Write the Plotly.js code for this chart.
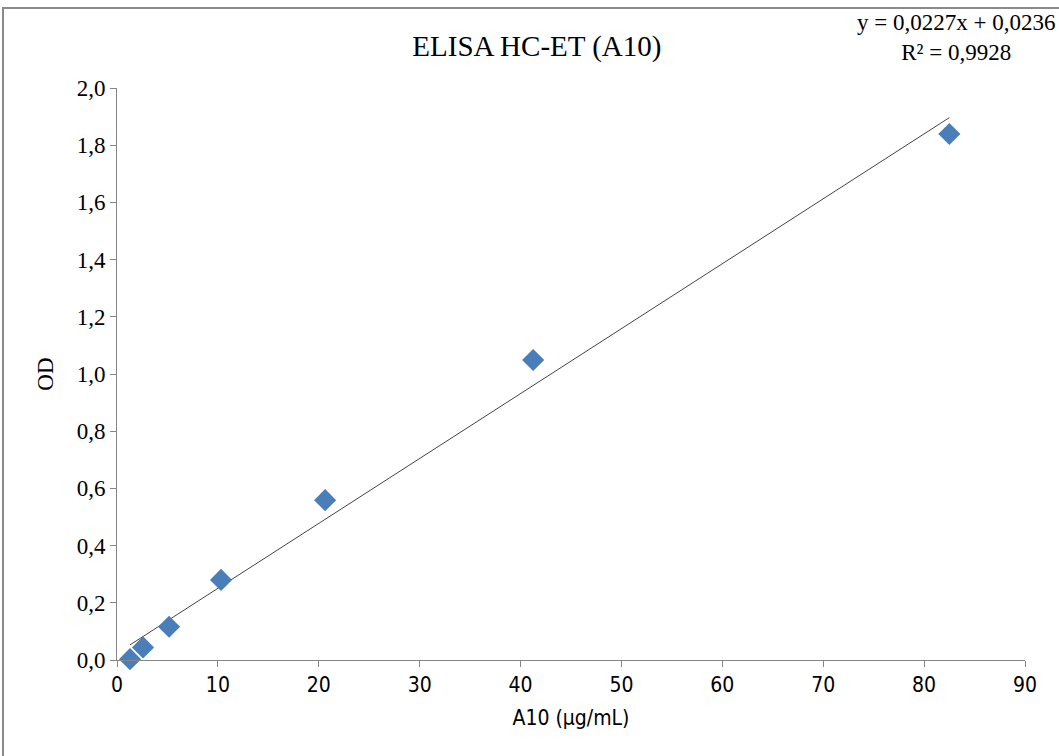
<!DOCTYPE html>
<html>
<head>
<meta charset="utf-8">
<script src="https://cdn.plot.ly/plotly-3.0.1.min.js"></script>
<style>
  html, body { margin: 0; padding: 0; background: #fff; }
  #frame { position: absolute; left: 2px; top: 7px; width: 1100px; height: 800px;
           border-left: 2px solid #8a8a8a; border-top: 2px solid #8a8a8a; pointer-events: none; }
  #chart { position: absolute; left: 0; top: 0; width: 1059px; height: 756px; }
</style>
</head>
<body>
<div id="chart"></div>
<div id="frame"></div>
<script>
// Standard curve: A10 concentration (µg/mL) vs measured OD
const concentration = [1.29, 2.58, 5.16, 10.31, 20.63, 41.25, 82.5];
const od = [0.003, 0.044, 0.116, 0.280, 0.559, 1.049, 1.839];

// Linear fit reported on the chart
const slope = 0.0227;
const intercept = 0.0236;
const rSquared = 0.9928;

const xMin = Math.min(...concentration);
const xMax = Math.max(...concentration);
const fitX = [xMin, xMax];
const fitY = fitX.map(x => slope * x + intercept);

const fmt = (v, d) => v.toFixed(d).replace('.', ',');

const points = {
  x: concentration, y: od, type: 'scatter', mode: 'markers', cliponaxis: false,
  marker: { symbol: 'diamond', size: 17, color: '#4a7ebb' },
  hoverinfo: 'x+y', showlegend: false
};
const fit = {
  x: fitX, y: fitY, type: 'scatter', mode: 'lines',
  line: { color: '#444444', width: 1 }, hoverinfo: 'skip', showlegend: false
};

const serif = 'Liberation Serif, Times New Roman, serif';
const narrow = 'DejaVu Sans Condensed, Liberation Sans Narrow, Arial Narrow, sans-serif';

const layout = {
  width: 1059, height: 756,
  margin: { l: 117, r: 34, t: 88, b: 96 },
  paper_bgcolor: 'rgba(0,0,0,0)', plot_bgcolor: '#fff',
  separators: ',.',
  title: { text: 'ELISA HC-ET (A10)', x: 0.507, xanchor: 'center', y: 0.94, yanchor: 'middle',
           font: { family: serif, size: 29, color: '#000' } },
  xaxis: {
    range: [0, 90], dtick: 10, tick0: 0, showgrid: false, zeroline: false,
    showline: true, linecolor: '#868686', linewidth: 1,
    ticks: 'outside', ticklen: 6, tickcolor: '#868686',
    tickfont: { family: narrow, size: 21, color: '#000' },
    title: { text: 'A10 (µg/mL)', font: { family: narrow, size: 21, color: '#000' }, standoff: 14 }
  },
  yaxis: {
    range: [0, 2], dtick: 0.2, tick0: 0, tickformat: '.1f', showgrid: false, zeroline: false,
    showline: true, linecolor: '#868686', linewidth: 1,
    ticks: 'outside', ticklen: 6, tickcolor: '#868686',
    tickfont: { family: serif, size: 23, color: '#000' },
    title: { text: 'OD', font: { family: serif, size: 23, color: '#000' }, standoff: 16 }
  },
  annotations: [{
    xref: 'paper', yref: 'paper', x: 1.035, y: 1.14, xanchor: 'right', yanchor: 'top',
    align: 'center', showarrow: false,
    text: 'y = ' + fmt(slope, 4) + 'x + ' + fmt(intercept, 4) + '<br>R² = ' + fmt(rSquared, 4),
    font: { family: serif, size: 23, color: '#000' }
  }]
};

Plotly.newPlot('chart', [fit, points], layout, { displayModeBar: false, staticPlot: true });
</script>
</body>
</html>
